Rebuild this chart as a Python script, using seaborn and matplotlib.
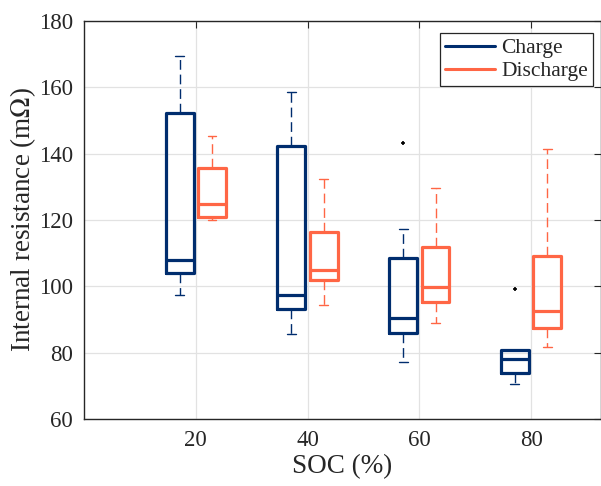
import pandas as pd
import matplotlib.pyplot as plt
import seaborn as sns
import numpy as np
from matplotlib.lines import Line2D

# box statistics (mOhm)
soc = [20, 40, 60, 80]

charge_lo = [97.4, 85.6, 77.1, 70.5]
charge_q1 = [104.1, 93.1, 85.8, 73.8]
charge_med = [108.0, 97.4, 90.6, 78.0]
charge_q3 = [152.3, 142.3, 108.6, 80.8]
charge_hi = [169.5, 158.7, 117.2, 80.9]
charge_out = [None, None, 143.3, 99.3]

dis_lo = [120.0, 94.4, 89.0, 81.6]
dis_q1 = [120.8, 101.9, 95.2, 87.5]
dis_med = [124.8, 104.9, 99.9, 92.6]
dis_q3 = [135.6, 116.3, 112.0, 109.2]
dis_hi = [145.3, 132.3, 129.6, 141.3]
dis_out = [None, None, None, None]


def samples(lo, q1, med, q3, hi, out):
    # 9 values so that the linear percentiles land on q1 / median / q3
    if out is None:
        return [lo, q1, q1, med, med, med, q3, q3, hi]
    return [lo, q1, q1, med, med, q3, q3, hi, out]


rows = []
for mode, stats in [("Charge", (charge_lo, charge_q1, charge_med, charge_q3, charge_hi, charge_out)),
                    ("Discharge", (dis_lo, dis_q1, dis_med, dis_q3, dis_hi, dis_out))]:
    for i, s in enumerate(soc):
        for v in samples(*[col[i] for col in stats]):
            rows.append({"soc": s, "mode": mode, "value": v})
df = pd.DataFrame(rows)

sns.set_style("white")
plt.rcParams["font.family"] = ["Liberation Serif", "DejaVu Serif"]
plt.rcParams["mathtext.fontset"] = "stix"

c_charge = "#002D6E"
c_dis = "#FF6645"

fig = plt.figure(figsize=(6.01, 4.86), dpi=100)
ax = fig.add_axes([84 / 601, 67 / 486, 517 / 601, 398 / 486])

sns.boxplot(data=df, x="soc", y="value", hue="mode", native_scale=True,
            palette={"Charge": c_charge, "Discharge": c_dis},
            width=0.58, gap=0.14, fill=False, linewidth=2.3, whis=1.5,
            capwidths=1.6,
            flierprops=dict(marker="+", markersize=3, markeredgewidth=1.2,
                            markeredgecolor="black"),
            legend=False, ax=ax)

# dashed thin whiskers, thin caps (matlab look)
for ln in ax.lines:
    xd = np.asarray(ln.get_xdata(), dtype=float)
    yd = np.asarray(ln.get_ydata(), dtype=float)
    if len(xd) == 2 and np.isclose(xd[0], xd[1]) and not np.isclose(yd[0], yd[1]):
        ln.set_linestyle((0, (7, 3.5)))
        ln.set_linewidth(1.0)
    elif len(xd) == 2 and np.isclose(yd[0], yd[1]) and abs(xd[1] - xd[0]) < 2:
        ln.set_linewidth(1.0)

ax.set_xlim(0, 92.5)
ax.set_ylim(60, 180)
ax.set_xticks(soc)
ax.set_yticks(range(60, 181, 20))
ax.grid(True, color="#e2e2e2", linewidth=0.9)
ax.set_axisbelow(True)
for sp in ax.spines.values():
    sp.set_color("#262626")
    sp.set_linewidth(1.0)
ax.tick_params(direction="in", top=True, right=True, length=5, width=0.8,
               colors="#262626", labelsize=16.5, pad=8, labelcolor="#262626")

ax.set_xlabel("SOC (%)", fontsize=19.5, color="#262626", labelpad=2)
ax.set_ylabel("Internal resistance (m$\\mathit{\\Omega}$)", fontsize=19.5,
              color="#262626", labelpad=0.5)

handles = [Line2D([0], [0], color=c_charge, lw=2.2),
           Line2D([0], [0], color=c_dis, lw=2.2)]
leg = ax.legend(handles, ["Charge", "Discharge"], loc="upper right",
                bbox_to_anchor=(0.985, 0.97), fontsize=15.5, frameon=True,
                fancybox=False, edgecolor="#262626", framealpha=1,
                handlelength=2.3, handletextpad=0.3, borderpad=0.25,
                labelspacing=0.12, borderaxespad=0)
leg.get_frame().set_linewidth(0.9)

fig.savefig("out.png", dpi=100)
